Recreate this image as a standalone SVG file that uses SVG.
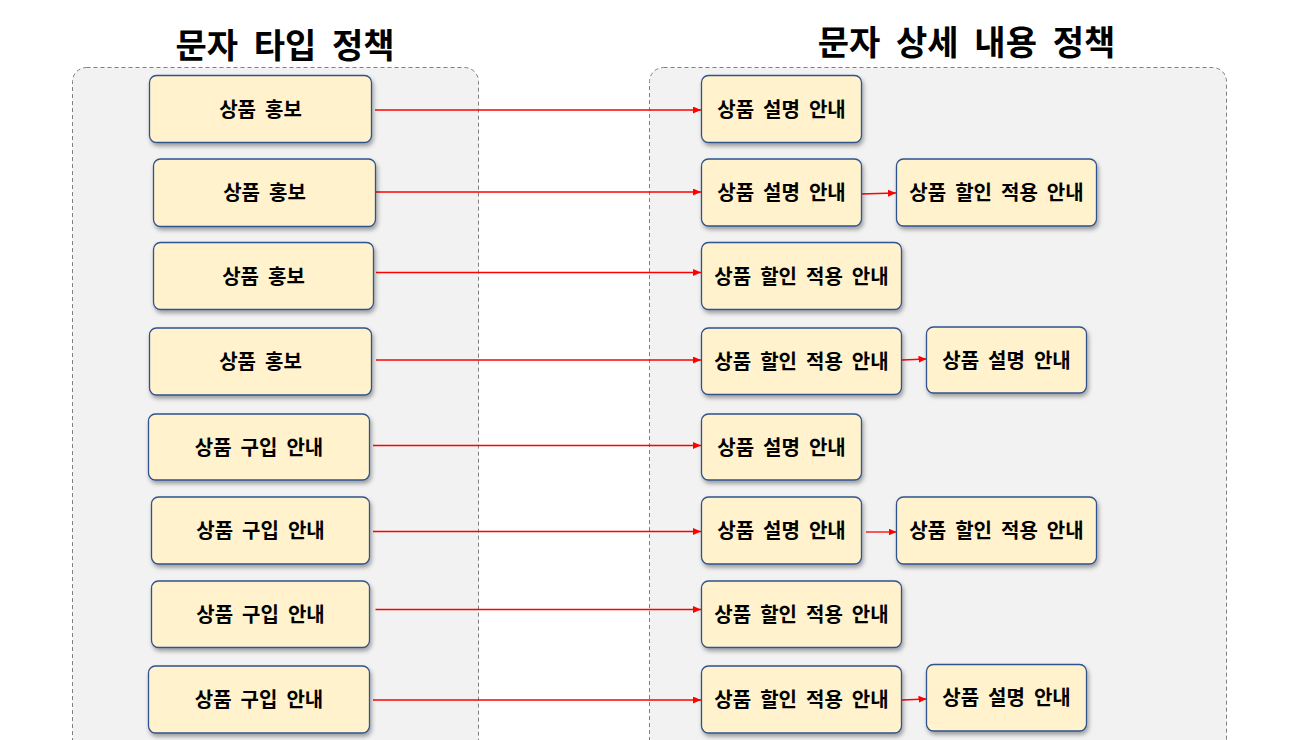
<svg xmlns="http://www.w3.org/2000/svg" width="1310" height="740" viewBox="0 0 1310 740">
  <style>
    .title { font-family: "Noto Sans CJK KR", "Noto Sans", sans-serif; font-weight: 700; font-size: 34px; word-spacing: 8px; fill: #000; text-anchor: middle; }
    .container { fill: #F2F2F2; stroke: #7F7F7F; stroke-width: 1; stroke-dasharray: 4 3; }
    .node rect { fill: #FFF2CC; stroke: #2F528F; stroke-width: 1.3; filter: url(#shadow); }
    .node text { font-family: "Noto Sans CJK KR", "Noto Sans", sans-serif; font-weight: 700; font-size: 20px; word-spacing: 4.5px; fill: #000; text-anchor: middle; dominant-baseline: central; }
    .conn line { stroke: #FF0000; stroke-width: 1.3; marker-end: url(#arrow); }
  </style>
  <defs>
    <filter id="shadow" x="-10%" y="-15%" width="125%" height="140%">
      <feDropShadow dx="1.5" dy="3" stdDeviation="2" flood-color="#000" flood-opacity="0.35"/>
    </filter>
    <marker id="arrow" markerUnits="userSpaceOnUse" markerWidth="9" markerHeight="8" refX="8" refY="3.5" orient="auto">
      <path d="M0,0 L8,3.5 L0,7 z" fill="#FF0000"/>
    </marker>
  </defs>

  <rect width="1310" height="740" fill="#FFFFFF"/>

  <g id="titles">
    <text class="title" x="285" y="57.5">문자 타입 정책</text>
    <text class="title" x="966.5" y="54.5">문자 상세 내용 정책</text>
  </g>

  <g id="containers">
    <rect class="container" x="72.5" y="67.5" width="406" height="700" rx="14"/>
    <rect class="container" x="649.5" y="67.5" width="577" height="700" rx="14"/>
  </g>

  <g id="connectors" class="conn">
    <line x1="375" y1="110" x2="701" y2="110"/>
    <line x1="375" y1="192" x2="701" y2="192"/>
    <line x1="376" y1="272.5" x2="701" y2="272.5"/>
    <line x1="376" y1="360" x2="701" y2="360"/>
    <line x1="373" y1="445.5" x2="701" y2="445.5"/>
    <line x1="373" y1="531.5" x2="701" y2="531.5"/>
    <line x1="375.5" y1="609.5" x2="701" y2="609.5"/>
    <line x1="373" y1="700" x2="701" y2="700"/>
    <line x1="860" y1="194" x2="896" y2="193"/>
    <line x1="902" y1="360" x2="926.5" y2="359"/>
    <line x1="866" y1="532" x2="896.5" y2="532"/>
    <line x1="902" y1="700" x2="926.5" y2="699"/>
  </g>

  <g id="L1" class="node"><rect x="149.5" y="75.5" width="222" height="67" rx="7"/><text x="260.5" y="108">상품 홍보</text></g>
  <g id="L2" class="node"><rect x="153.5" y="159" width="222" height="67.5" rx="7"/><text x="264.5" y="191.5">상품 홍보</text></g>
  <g id="L3" class="node"><rect x="153.5" y="242.5" width="220" height="67" rx="7"/><text x="263.5" y="275">상품 홍보</text></g>
  <g id="L4" class="node"><rect x="149.5" y="328" width="222" height="67" rx="7"/><text x="260.5" y="360.5">상품 홍보</text></g>
  <g id="L5" class="node"><rect x="148.5" y="414" width="221" height="66" rx="7"/><text x="259" y="446">상품 구입 안내</text></g>
  <g id="L6" class="node"><rect x="151.5" y="497" width="218" height="67" rx="7"/><text x="260.5" y="529.5">상품 구입 안내</text></g>
  <g id="L7" class="node"><rect x="151.5" y="581" width="218" height="66.5" rx="7"/><text x="260.5" y="613">상품 구입 안내</text></g>
  <g id="L8" class="node"><rect x="148.5" y="666" width="221" height="67" rx="7"/><text x="259" y="698.5">상품 구입 안내</text></g>

  <g id="R1a" class="node"><rect x="701.5" y="75.5" width="160" height="67" rx="7"/><text x="781.5" y="108">상품 설명 안내</text></g>
  <g id="R2a" class="node"><rect x="701.5" y="159" width="160" height="67" rx="7"/><text x="781.5" y="191.5">상품 설명 안내</text></g>
  <g id="R2b" class="node"><rect x="896.5" y="159" width="200" height="67" rx="7"/><text x="996.5" y="191.5">상품 할인 적용 안내</text></g>
  <g id="R3a" class="node"><rect x="701.5" y="242.5" width="200" height="67" rx="7"/><text x="801.5" y="275">상품 할인 적용 안내</text></g>
  <g id="R4a" class="node"><rect x="701.5" y="328" width="200" height="66.5" rx="7"/><text x="801.5" y="360">상품 할인 적용 안내</text></g>
  <g id="R4b" class="node"><rect x="926.5" y="327" width="160" height="66" rx="7"/><text x="1006.5" y="359">상품 설명 안내</text></g>
  <g id="R5a" class="node"><rect x="701.5" y="414" width="160" height="66" rx="7"/><text x="781.5" y="446">상품 설명 안내</text></g>
  <g id="R6a" class="node"><rect x="701.5" y="497" width="160" height="67" rx="7"/><text x="781.5" y="529.5">상품 설명 안내</text></g>
  <g id="R6b" class="node"><rect x="896.5" y="497" width="200" height="67" rx="7"/><text x="996.5" y="529.5">상품 할인 적용 안내</text></g>
  <g id="R7a" class="node"><rect x="701.5" y="581" width="200" height="66.5" rx="7"/><text x="801.5" y="613">상품 할인 적용 안내</text></g>
  <g id="R8a" class="node"><rect x="701.5" y="666" width="200" height="67" rx="7"/><text x="801.5" y="698.5">상품 할인 적용 안내</text></g>
  <g id="R8b" class="node"><rect x="926.5" y="664.5" width="160" height="66.5" rx="7"/><text x="1006.5" y="696.5">상품 설명 안내</text></g>
</svg>
